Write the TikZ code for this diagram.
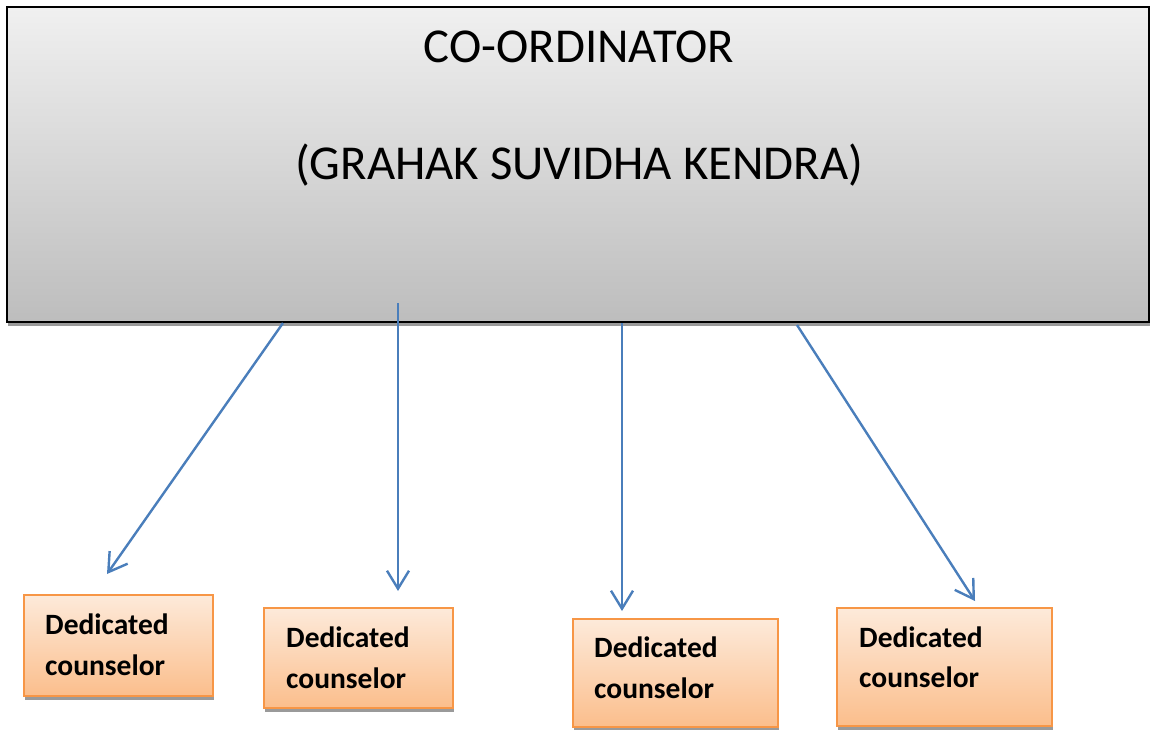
\documentclass[tikz,border=0pt]{standalone}
\usepackage{fontspec}
\setmainfont{Carlito}
\usetikzlibrary{arrows.meta,shadows}
\definecolor{conn}{HTML}{4A7EBB}
\definecolor{orangeline}{HTML}{F79646}
\definecolor{orangetop}{HTML}{FDEADA}
\definecolor{orangebot}{HTML}{FBBE8C}
\definecolor{graytop}{HTML}{F0F0F0}
\definecolor{graybot}{HTML}{BDBDBD}
\definecolor{shadowgray}{HTML}{9A9A9A}
\tikzset{
  mainbox/.style={draw=black, line width=2.2pt, inner sep=0pt, rectangle,
    top color=graytop, bottom color=graybot,
    drop shadow={shadow xshift=1pt, shadow yshift=-4pt, fill=shadowgray, opacity=1}},
  cbox/.style={draw=orangeline, line width=2pt, inner sep=0pt, rectangle,
    top color=orangetop, bottom color=orangebot,
    drop shadow={shadow xshift=1pt, shadow yshift=-4pt, fill=shadowgray, opacity=1}},
  maintext/.style={anchor=base, inner sep=0pt, font=\fontsize{48.7}{58}\selectfont},
  ctext/.style={anchor=base west, inner sep=0pt, font=\fontsize{29.5}{36}\selectfont\bfseries},
  conn/.style={draw=conn, line width=2.4pt, -{Straight Barb[length=18pt,width=22pt,line width=2.4pt]}}
}
\begin{document}
\begin{tikzpicture}[x=1pt,y=-1pt]
\useasboundingbox (0,0) rectangle (1151,730);
% main box
\node[mainbox, minimum width=1142pt, minimum height=315pt] (coord) at (578,164.5) {};
\node[maintext] (t1) at (579,63) {CO-ORDINATOR};
\node[maintext] (t2) at (579,180) {(GRAHAK SUVIDHA KENDRA)};
% counselor boxes
\node[cbox, minimum width=189pt, minimum height=101pt] (b1) at (118.5,645.5) {};
\node[cbox, minimum width=189pt, minimum height=100pt] (b2) at (358.5,658) {};
\node[cbox, minimum width=205pt, minimum height=108pt] (b3) at (675.5,673) {};
\node[cbox, minimum width=215pt, minimum height=118pt] (b4) at (944.5,667) {};
\node[ctext] (b1a) at (45,634) {Dedicated};
\node[ctext] (b1b) at (45,675) {counselor};
\node[ctext] (b2a) at (286,647) {Dedicated};
\node[ctext] (b2b) at (286,688) {counselor};
\node[ctext] (b3a) at (594,657) {Dedicated};
\node[ctext] (b3b) at (594,698) {counselor};
\node[ctext] (b4a) at (859,647) {Dedicated};
\node[ctext] (b4b) at (859,687) {counselor};
% connector ends
\coordinate (s1) at (283,323);
\coordinate (s2) at (398,303);
\coordinate (s3) at (622,323);
\coordinate (s4) at (797,325);
\coordinate (e1) at (107,574);
\coordinate (e2) at (398,591);
\coordinate (e3) at (622,611);
\coordinate (e4) at (975,601);
\draw[conn] (s1) -- (e1);
\draw[conn] (s2) -- (e2);
\draw[conn] (s3) -- (e3);
\draw[conn] (s4) -- (e4);
\end{tikzpicture}
\end{document}
